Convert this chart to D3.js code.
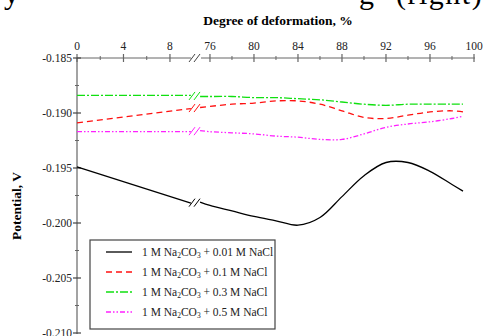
<!DOCTYPE html>
<html><head><meta charset="utf-8">
<script src="https://cdn.jsdelivr.net/npm/d3@7"></script>
<style>body{margin:0;background:#fff}svg{display:block}text{font-family:"Liberation Serif","Times New Roman",serif}</style>
</head><body>
<script>
// ---- data ----
const xLeft = [0, 10];
const xRight = [74.8, 76, 78, 80, 82, 84, 86, 88, 90, 92, 94, 96, 98, 99];
const seriesNames = ["0.01", "0.1", "0.3", "0.5"];
const blackLeft = [-0.1949, -0.1982];
const blackRight = [-0.1981, -0.1984, -0.1989, -0.1994, -0.1998, -0.2002, -0.1995, -0.1976, -0.1957, -0.1945, -0.1945, -0.1953, -0.1965, -0.1971];
const redLeft = [-0.1909, -0.1896];
const redRight = [-0.1895, -0.1894, -0.1892, -0.1891, -0.1889, -0.1889, -0.1892, -0.1898, -0.1904, -0.1905, -0.1902, -0.1899, -0.1898, -0.1899];
const greenLeft = [-0.1884, -0.1884];
const greenRight = [-0.1885, -0.1885, -0.1885, -0.1886, -0.1886, -0.1887, -0.1888, -0.1890, -0.1892, -0.1893, -0.1892, -0.1892, -0.1892, -0.1892];
const magentaLeft = [-0.1917, -0.1917];
const magentaRight = [-0.1916, -0.1917, -0.1918, -0.1919, -0.1921, -0.1922, -0.1924, -0.1924, -0.1919, -0.1913, -0.1910, -0.1908, -0.1905, -0.1903];
const xTicksLeft = [0, 4, 8];
const xTicksRight = [76, 80, 84, 88, 92, 96, 100];
const xMinorLeft = [2, 6];
const xMinorRight = [78, 82, 86, 90, 94, 98];
const yTicks = [-0.185, -0.190, -0.195, -0.200, -0.205, -0.210];
const yMinor = [-0.1875, -0.1925, -0.1975, -0.2025, -0.2075];

const W = 485, H = 336;
const svg = d3.select("body").append("svg").attr("width", W).attr("height", H);

const x = d3.scaleLinear().domain([0, 10.24, 74.73, 100]).range([77, 196, 196, 474]);
const y = d3.scaleLinear().domain([-0.185, -0.210]).range([58, 333]);

// cropped caption fragment at top
svg.append("text").attr("x", 4).attr("y", 4).attr("font-size", 30).text("y");
svg.append("text").attr("x", 359).attr("y", 4).attr("font-size", 30).text("g");
svg.append("text").attr("x", 396).attr("y", 4).attr("font-size", 30).attr("letter-spacing", 1.5).text("(right)");

const axisCol = "#666";
// top axis
const g = svg.append("g");
g.append("line").attr("x1", 77).attr("x2", 191).attr("y1", 58).attr("y2", 58).attr("stroke", axisCol);
g.append("line").attr("x1", 201).attr("x2", 475).attr("y1", 58).attr("y2", 58).attr("stroke", axisCol);
[191, 196].forEach(bx => g.append("line").attr("x1", bx - 2).attr("x2", bx + 4).attr("y1", 62).attr("y2", 54).attr("stroke", "#444"));
xTicksLeft.concat(xTicksRight).forEach(t => {
  g.append("line").attr("x1", x(t)).attr("x2", x(t)).attr("y1", 54).attr("y2", 62).attr("stroke", axisCol).attr("stroke-width", 1.2);
  g.append("text").attr("x", x(t)).attr("y", 50).attr("text-anchor", "middle").attr("font-size", 11.5).attr("fill", "#222").text(t);
});
xMinorLeft.concat(xMinorRight).forEach(t => {
  g.append("line").attr("x1", x(t)).attr("x2", x(t)).attr("y1", 56).attr("y2", 60).attr("stroke", axisCol);
});
svg.append("text").attr("x", 278).attr("y", 25).attr("text-anchor", "middle").attr("font-size", 13.5).attr("font-weight", "bold").text("Degree of deformation, %");

// left axis
g.append("line").attr("x1", 77).attr("x2", 77).attr("y1", 58).attr("y2", 334).attr("stroke", axisCol).attr("stroke-width", 1.2);
yTicks.forEach(t => {
  g.append("line").attr("x1", 73).attr("x2", 81).attr("y1", y(t)).attr("y2", y(t)).attr("stroke", "#444").attr("stroke-width", 1.2);
  g.append("text").attr("x", 72).attr("y", y(t) + 4).attr("text-anchor", "end").attr("font-size", 11.5).attr("fill", "#222").text(t.toFixed(3));
});
yMinor.forEach(t => {
  g.append("line").attr("x1", 75).attr("x2", 79).attr("y1", y(t)).attr("y2", y(t)).attr("stroke", axisCol);
});
svg.append("text").attr("transform", "translate(21,206) rotate(-90)").attr("text-anchor", "middle").attr("font-size", 13.5).attr("font-weight", "bold").text("Potential, V");

// series
const series = [
  {name: seriesNames[0], left: blackLeft, right: blackRight, color: "#000", dash: null, w: 1.3},
  {name: seriesNames[1], left: redLeft, right: redRight, color: "#ff1010", dash: "6,4", w: 1.3},
  {name: seriesNames[2], left: greenLeft, right: greenRight, color: "#10e010", dash: "8,2,2,2", w: 1.3},
  {name: seriesNames[3], left: magentaLeft, right: magentaRight, color: "#ff20ff", dash: "5,2,1.5,2,1.5,2", w: 1.3}
];
const line = d3.line().x(d => x(d[0])).y(d => y(d[1])).curve(d3.curveCatmullRom.alpha(0.5));
series.forEach(s => {
  const L = xLeft.map((v, i) => [v, s.left[i]]);
  L[1] = [9.8, s.left[1]];
  const R = xRight.map((v, i) => [v, s.right[i]]);
  R[0] = [75.1, s.right[0]];
  [L, R].forEach(d => svg.append("path").attr("d", line(d)).attr("fill", "none")
    .attr("stroke", s.color).attr("stroke-width", s.w).attr("stroke-dasharray", s.dash));
  const yb = (y(s.left[1]) + y(s.right[0])) / 2;
  [191, 196].forEach(bx => svg.append("line").attr("x1", bx - 2).attr("x2", bx + 4).attr("y1", yb + 4).attr("y2", yb - 4).attr("stroke", s.color).attr("stroke-width", 1));
});

// legend
const lg = svg.append("g");
lg.append("rect").attr("x", 90).attr("y", 240).attr("width", 185).attr("height", 89).attr("fill", "#fff").attr("stroke", "#444").attr("stroke-width", 1.2);
const concs = ["0.01", "0.1", "0.3", "0.5"];
series.forEach((s, i) => {
  const ly = 252 + i * 20;
  lg.append("line").attr("x1", 106).attr("x2", 132).attr("y1", ly).attr("y2", ly).attr("stroke", s.color).attr("stroke-width", s.w).attr("stroke-dasharray", s.dash);
  const t = lg.append("text").attr("x", 142).attr("y", ly + 4).attr("font-size", 11.5).attr("fill", "#222");
  t.append("tspan").text("1 M Na");
  t.append("tspan").attr("font-size", 7.5).attr("dy", 2).text("2");
  t.append("tspan").attr("dy", -2).text("CO");
  t.append("tspan").attr("font-size", 7.5).attr("dy", 2).text("3");
  t.append("tspan").attr("dy", -2).text(" + " + concs[i] + " M NaCl");
});
</script>
</body></html>
